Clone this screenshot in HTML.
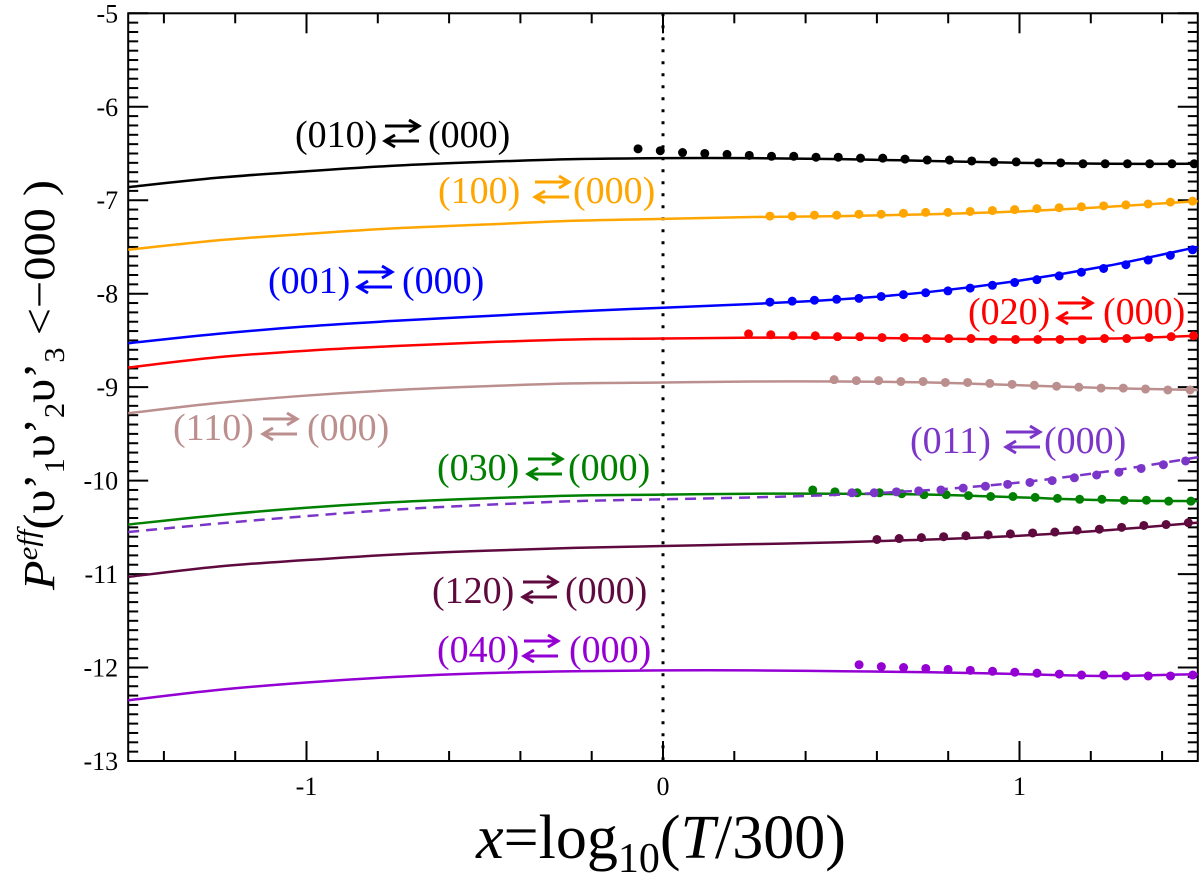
<!DOCTYPE html>
<html><head><meta charset="utf-8"><style>
html,body{margin:0;padding:0;background:#fff}
svg{display:block}
text{font-family:"Liberation Serif",serif}
</style></head><body>
<svg id="chart" width="1200" height="873" viewBox="0 0 1200 873" xmlns="http://www.w3.org/2000/svg">
<g id="grid"></g>
<g id="series"></g>
<g id="labels"></g>
<text x="661" y="858" font-size="62" text-anchor="middle"><tspan font-style="italic">x</tspan>=log<tspan font-size="42" dy="14">10</tspan><tspan dy="-14">(</tspan><tspan font-style="italic">T</tspan>/300)</text>
<text transform="translate(54,385) rotate(-90)" font-size="44" text-anchor="middle" textLength="410" lengthAdjust="spacingAndGlyphs"><tspan font-style="italic">P</tspan><tspan font-style="italic" font-size="28" dy="-17">eff</tspan><tspan dy="17">(υ’</tspan><tspan font-size="28" dy="10">1</tspan><tspan dy="-10">υ’</tspan><tspan font-size="28" dy="10">2</tspan><tspan dy="-10">υ’</tspan><tspan font-size="28" dy="10">3</tspan><tspan dy="-10"> &lt;−000 )</tspan></text>
</svg>
<script>
const xGrid=[-1.5,-1.25,-1,-0.75,-0.5,-0.25,0,0.25,0.5,0.75,1,1.25,1.5];
const xTicks=[-1,0,1];
const yTicks=[-5,-6,-7,-8,-9,-10,-11,-12,-13];
const blackCurve=[-6.86,-6.76,-6.69,-6.63,-6.59,-6.56,-6.55,-6.55,-6.56,-6.58,-6.60,-6.61,-6.61];
const orangeCurve=[-7.53,-7.43,-7.36,-7.30,-7.26,-7.22,-7.20,-7.18,-7.17,-7.15,-7.12,-7.07,-7.01];
const blueCurve=[-8.53,-8.43,-8.35,-8.29,-8.24,-8.19,-8.15,-8.11,-8.06,-7.98,-7.86,-7.70,-7.50];
const redCurve=[-8.79,-8.68,-8.61,-8.56,-8.52,-8.49,-8.48,-8.47,-8.47,-8.48,-8.49,-8.48,-8.45];
const rosyCurve=[-9.28,-9.17,-9.09,-9.03,-8.99,-8.96,-8.95,-8.94,-8.94,-8.95,-8.98,-9.01,-9.03];
const greenCurve=[-10.47,-10.37,-10.29,-10.23,-10.19,-10.16,-10.15,-10.14,-10.14,-10.15,-10.18,-10.21,-10.22];
const dashCurve=[-10.55,-10.46,-10.38,-10.31,-10.26,-10.22,-10.20,-10.18,-10.15,-10.10,-10.02,-9.90,-9.75];
const maroonCurve=[-11.03,-10.92,-10.85,-10.79,-10.75,-10.72,-10.70,-10.68,-10.66,-10.63,-10.59,-10.53,-10.45];
const violetCurve=[-12.35,-12.24,-12.16,-12.10,-12.06,-12.04,-12.03,-12.03,-12.04,-12.05,-12.07,-12.09,-12.07];
const dotStep=0.0624;
const blackDotStart=-0.07;
const blackDots=[-6.45,-6.47,-6.49,-6.50,-6.51,-6.52,-6.53,-6.53,-6.54,-6.54,-6.55,-6.55,-6.56,-6.57,-6.57,-6.58,-6.59,-6.59,-6.60,-6.60,-6.61,-6.61,-6.61,-6.61,-6.61,-6.61];
const orangeDotStart=0.30;
const orangeDots=[-7.17,-7.17,-7.16,-7.16,-7.15,-7.15,-7.14,-7.13,-7.13,-7.12,-7.11,-7.10,-7.09,-7.08,-7.07,-7.06,-7.05,-7.04,-7.02,-7.01];
const blueDotStart=0.30;
const blueDots=[-8.09,-8.08,-8.07,-8.06,-8.05,-8.03,-8.01,-7.99,-7.97,-7.94,-7.91,-7.88,-7.85,-7.81,-7.77,-7.73,-7.69,-7.64,-7.59,-7.53];
const redDotStart=0.24;
const redDots=[-8.43,-8.44,-8.45,-8.45,-8.46,-8.46,-8.47,-8.47,-8.48,-8.48,-8.48,-8.49,-8.49,-8.49,-8.49,-8.49,-8.48,-8.48,-8.47,-8.46,-8.45];
const rosyDotStart=0.48;
const rosyDots=[-8.92,-8.93,-8.93,-8.94,-8.94,-8.95,-8.95,-8.96,-8.97,-8.98,-8.99,-9.00,-9.01,-9.01,-9.02,-9.03,-9.03];
const greenDotStart=0.42;
const greenDots=[-10.10,-10.12,-10.13,-10.13,-10.14,-10.15,-10.15,-10.16,-10.17,-10.17,-10.18,-10.19,-10.20,-10.20,-10.21,-10.21,-10.22,-10.22];
const dashDotStart=0.53;
const dashDots=[-10.13,-10.13,-10.12,-10.11,-10.10,-10.08,-10.06,-10.04,-10.02,-10.00,-9.97,-9.94,-9.91,-9.87,-9.83,-9.79];
const maroonDotStart=0.60;
const maroonDots=[-10.63,-10.62,-10.61,-10.60,-10.59,-10.58,-10.57,-10.56,-10.55,-10.53,-10.52,-10.50,-10.48,-10.47,-10.45];
const violetDotStart=0.55;
const violetDots=[-11.97,-11.99,-12.00,-12.01,-12.02,-12.03,-12.04,-12.05,-12.06,-12.07,-12.08,-12.08,-12.09,-12.09,-12.09,-12.08];

const NS='http://www.w3.org/2000/svg';
const L=128.2,R=1197.8,T=13.3,B=761;
const xs=v=>663+v*356.5;
const ys=v=>T+(-5-v)*(B-T)/8;
function mk(tag,attrs,parent){const e=document.createElementNS(NS,tag);for(const k in attrs)e.setAttribute(k,attrs[k]);parent.appendChild(e);return e;}
const grid=document.getElementById('grid');
const ser=document.getElementById('series');
const lab=document.getElementById('labels');

const zl=mk('line',{x1:xs(0),x2:xs(0),y1:T,y2:B,stroke:'#000','stroke-width':3,'stroke-dasharray':'3,9'},grid);



function path(vals){
  const p=xGrid.map((x,i)=>[xs(x),ys(vals[i])]);
  let d='M'+p[0][0]+','+p[0][1];
  for(let i=0;i<p.length-1;i++){
    const p0=p[Math.max(0,i-1)],p1=p[i],p2=p[i+1],p3=p[Math.min(p.length-1,i+2)];
    const c1=[p1[0]+(p2[0]-p0[0])/6,p1[1]+(p2[1]-p0[1])/6];
    const c2=[p2[0]-(p3[0]-p1[0])/6,p2[1]-(p3[1]-p1[1])/6];
    d+=` C${c1[0]},${c1[1]} ${c2[0]},${c2[1]} ${p2[0]},${p2[1]}`;
  }
  return d;
}
const series=[
 ['black',blackCurve,blackDotStart,blackDots,'#000',false],
 ['orange',orangeCurve,orangeDotStart,orangeDots,'#ffa500',false],
 ['blue',blueCurve,blueDotStart,blueDots,'#0000ff',false],
 ['red',redCurve,redDotStart,redDots,'#ff0000',false],
 ['rosy',rosyCurve,rosyDotStart,rosyDots,'#bc8f8f',false],
 ['green',greenCurve,greenDotStart,greenDots,'#008000',false],
 ['dashed',dashCurve,dashDotStart,dashDots,'#7b35c8',true],
 ['maroon',maroonCurve,maroonDotStart,maroonDots,'#5f0a3f',false],
 ['violet',violetCurve,violetDotStart,violetDots,'#9400d3',false]
];
series.forEach(s=>{
  const a={d:path(s[1]),fill:'none',stroke:s[4],'stroke-width':2.5};
  if(s[5])a['stroke-dasharray']='11,7';
  const pe=mk('path',a,ser);
  
  
  s[3].forEach((v,i)=>{
    const c=mk('circle',{cx:xs(s[2]+i*dotStep),cy:ys(v),r:4.5,fill:s[4]},ser);
    
    
  });
});

const fr=mk('rect',{x:L,y:T,width:R-L,height:B-T,fill:'none',stroke:'#000','stroke-width':2},grid);


for(let i=-7;i<=7;i++){
  const v=i*0.2, x=xs(v), major=Math.abs(v-Math.round(v))<1e-6;
  const len=major?20:10;
  [[B,B-len],[T,T+len]].forEach(([a,b])=>{
    const t=mk('line',{x1:x,x2:x,y1:a,y2:b,stroke:'#000','stroke-width':2},grid);
    
    
  });
}
xTicks.forEach(v=>{
  const t=mk('text',{x:xs(v),y:B+34,'font-size':26,'text-anchor':'middle'},grid);
  t.textContent=v;
  
  
});
for(let i=0;i<=80;i++){
  const v=-5-i*0.1,y=ys(v),major=i%10===0,len=major?20:10;
  [[L,L+len],[R,R-len]].forEach(([a,b])=>{
    const t=mk('line',{x1:a,x2:b,y1:y,y2:y,stroke:'#000','stroke-width':2},grid);
    
    
  });
}
yTicks.forEach(v=>{
  const t=mk('text',{x:L-10,y:ys(v)+9,'font-size':26,'text-anchor':'end'},grid);
  t.textContent=v;
  
  
});

// labels: text, x, baseline, arrow x, second text x, color
const labels=[
 ['(010)',295,147,385,428,'#000'],
 ['(100)',438,203,535,573,'#ffa500'],
 ['(001)',268,293,358,402,'#0000ff'],
 ['(020)',968,324,1058,1103,'#ff0000'],
 ['(110)',173,440,263,307,'#bc8f8f'],
 ['(011)',910,453,1006,1044,'#7b35c8'],
 ['(030)',437,480,528,568,'#008000'],
 ['(120)',432,603,523,565,'#5f0a3f'],
 ['(040)',437,662,524,569,'#9400d3']
];
labels.forEach(l=>{
  const g=mk('g',{},lab);
  
  
  const t1=mk('text',{x:l[1],y:l[2],'font-size':38,fill:l[5]},g);
  t1.textContent=l[0];
  const ax=l[3], w=34, y1=l[2]-21, y2=l[2]-6;
  mk('path',{d:`M${ax},${y1} h${w} m-10,-6 l10,6 l-10,6`,stroke:l[5],'stroke-width':3,fill:'none'},g);
  mk('path',{d:`M${ax+w},${y2} h-${w} m10,-6 l-10,6 l10,6`,stroke:l[5],'stroke-width':3,fill:'none'},g);
  const t2=mk('text',{x:l[4],y:l[2],'font-size':38,fill:l[5]},g);
  t2.textContent='(000)';
});
</script>
</body></html>
